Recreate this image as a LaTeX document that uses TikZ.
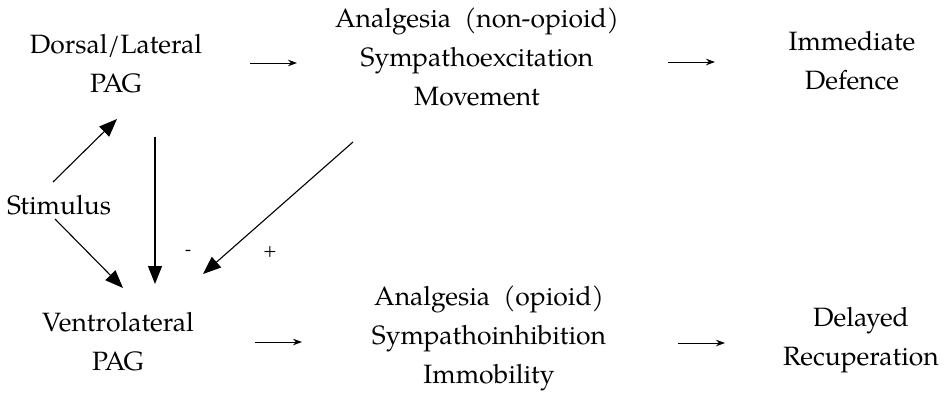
\documentclass[tikz,border=0pt]{standalone}
\usepackage{fontspec}
\setmainfont{TeX Gyre Pagella}
\usetikzlibrary{arrows.meta}
\begin{document}
\begin{tikzpicture}[x=1pt,y=-1pt,
  lbl/.style={align=center, font=\fontsize{26.5}{39}\selectfont, inner sep=0pt},
  thinarrow/.style={-{Stealth[length=9pt,width=6.5pt]}, line width=0.9pt},
  bigarrow/.style={-{Triangle[length=18pt,width=14pt]}, line width=1.1pt},
  sign/.style={font=\fontsize{18}{18}\selectfont, inner sep=0pt}]
\useasboundingbox (0,0) rectangle (945,402);

\node[lbl] (dl) at (116,64) {Dorsal/Lateral\\PAG};
\node[lbl] (ana) at (477,57) {Analgesia\ \ (non-opioid)\\Sympathoexcitation\\Movement};
\node[lbl] (imm) at (852,61) {Immediate\\Defence};
\node[lbl] (stim) at (59,205) {Stimulus};
\node[lbl] (vl) at (118,342) {Ventrolateral\\PAG};
\node[lbl] (anb) at (489,338) {Analgesia\ \ (opioid)\\Sympathoinhibition\\Immobility};
\node[lbl] (del) at (861,340) {Delayed\\Recuperation};

\node[sign] (minus) at (188,253) {-};
\node[sign] (plus) at (270,252) {+};

% arrow end points
\coordinate (a1s) at (250,63);  \coordinate (a1e) at (297,63);
\coordinate (a2s) at (668,62);  \coordinate (a2e) at (715,62);
\coordinate (b1s) at (255,342); \coordinate (b1e) at (302,342);
\coordinate (b2s) at (678,343); \coordinate (b2e) at (725,343);
\coordinate (sds) at (53,182);  \coordinate (sde) at (117,119);
\coordinate (svs) at (55,219);  \coordinate (sve) at (123,288);
\coordinate (dvs) at (155,137); \coordinate (dve) at (155,284);
\coordinate (avs) at (353,142); \coordinate (ave) at (203,274);

\draw[thinarrow] (a1s) -- (a1e);
\draw[thinarrow] (a2s) -- (a2e);
\draw[thinarrow] (b1s) -- (b1e);
\draw[thinarrow] (b2s) -- (b2e);
\draw[bigarrow] (sds) -- (sde);
\draw[bigarrow] (svs) -- (sve);
\draw[bigarrow] (dvs) -- (dve);
\draw[bigarrow] (avs) -- (ave);
\end{tikzpicture}
\end{document}
